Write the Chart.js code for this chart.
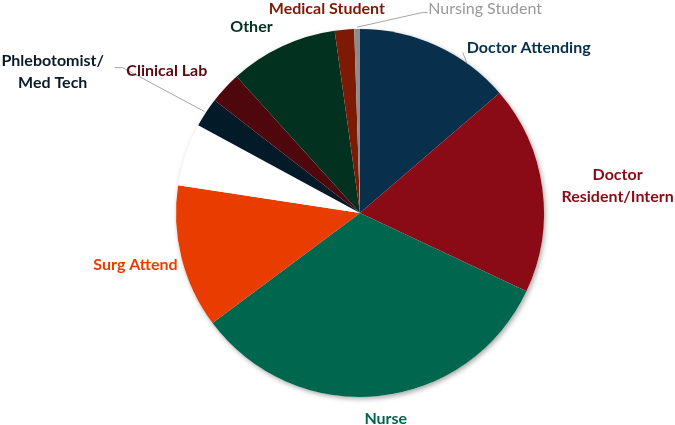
<!DOCTYPE html>
<html>
<head>
<meta charset="utf-8">
<script src="https://cdn.jsdelivr.net/npm/chart.js@4/dist/chart.umd.min.js"></script>
<style>
  html, body { margin: 0; padding: 0; background: #fff; }
  #wrap { width: 675px; height: 425px; position: relative; }
</style>
</head>
<body>
<div id="wrap"><canvas id="pie"></canvas></div>
<script>
/* data (percent of whole, clockwise from 12 o'clock) */
var categories = ['Doctor Attending', 'Doctor Resident/Intern', 'Nurse', 'Surg Attend', '',
  'Phlebotomist/ Med Tech', 'Clinical Lab', 'Other', 'Medical Student', 'Nursing Student'];
var shares = [13.7, 18.3, 32.8, 12.6, 5.5, 2.6, 2.8, 9.5, 1.7, 0.5];
var sliceColors = ['#08304c', '#8a0a16', '#00664e', '#e83c00', '#ffffff',
  '#031a29', '#4e070d', '#02321f', '#7c1a05', '#8c8c8c'];
var textColors = ['#08304c', '#8a0a16', '#00664e', '#e83c00', '#ffffff',
  '#0a1a27', '#5c0a12', '#02321f', '#7c1a05', '#999999'];

(function () {
  'use strict';

  var FONT = "'Lato', 'Open Sans', sans-serif";

  // label anchors, in pie radii from the centre; align + optional leader line
  var labelLayout = [
    { dx: 0.58, dy: -0.90, align: 'left', leader: 'edge' },
    { dx: 1.40, dy: -0.145, align: 'center' },
    { dx: 0.14, dy: 1.12, align: 'center' },
    { dx: -1.22, dy: 0.28, align: 'center' },
    null,
    { dx: -1.67, dy: -0.765, align: 'center', leader: 'elbow', elbowDx: -1.29, elbowDy: -0.79 },
    { dx: -1.05, dy: -0.77, align: 'center' },
    { dx: -0.59, dy: -1.01, align: 'center' },
    { dx: -0.18, dy: -1.11, align: 'center' },
    { dx: 0.68, dy: -1.11, align: 'center', leader: 'elbow', elbowDx: 0.34, elbowDy: -1.09, bold: false }
  ];

  function splitLabel(s) {
    if (s === 'Doctor Resident/Intern') return ['Doctor', 'Resident/Intern'];
    if (s === 'Phlebotomist/ Med Tech') return ['Phlebotomist/', 'Med Tech'];
    return [s];
  }

  var pieShadow = {
    id: 'pieShadow',
    beforeDatasetsDraw: function (chart) {
      var arc = chart.getDatasetMeta(0).data[0];
      if (!arc) return;
      var ctx = chart.ctx;
      ctx.save();
      ctx.shadowColor = 'rgba(0,0,0,0.35)';
      ctx.shadowBlur = 5;
      ctx.shadowOffsetX = 1.5;
      ctx.shadowOffsetY = 2;
      ctx.fillStyle = '#ffffff';
      ctx.beginPath();
      ctx.arc(arc.x, arc.y, arc.outerRadius, 0, Math.PI * 2);
      ctx.fill();
      ctx.restore();
    }
  };

  var sliceLabels = {
    id: 'sliceLabels',
    afterDatasetsDraw: function (chart) {
      var ctx = chart.ctx;
      var meta = chart.getDatasetMeta(0);
      meta.data.forEach(function (arc, i) {
        var lay = labelLayout[i];
        if (!lay) return;
        var r = arc.outerRadius;
        var cx = arc.x, cy = arc.y;
        var lx = cx + lay.dx * r, ly = cy + lay.dy * r;
        var mid = (arc.startAngle + arc.endAngle) / 2;

        ctx.save();
        ctx.strokeStyle = '#a6a6a6';
        ctx.lineWidth = 1;
        if (lay.leader === 'elbow') {
          var ex = cx + Math.cos(mid) * r * 1.01;
          var ey = cy + Math.sin(mid) * r * 1.01;
          var bx = cx + lay.elbowDx * r, by = cy + lay.elbowDy * r;
          var endX = lay.dx < 0 ? bx - 8 : bx + 5;
          ctx.beginPath();
          ctx.moveTo(ex, ey);
          ctx.lineTo(bx, by);
          ctx.lineTo(endX, by);
          ctx.stroke();
        } else if (lay.leader === 'edge') {
          var a = -Math.PI / 2 + 0.62;
          ctx.beginPath();
          ctx.moveTo(cx + Math.cos(a) * r, cy + Math.sin(a) * r);
          ctx.lineTo(lx - 4, ly + 5);
          ctx.stroke();
        }

        var lines = splitLabel(categories[i]);
        ctx.fillStyle = textColors[i];
        ctx.font = (lay.bold === false ? '' : 'bold ') + '16px ' + FONT;
        ctx.textAlign = lay.align;
        ctx.textBaseline = 'middle';
        var step = 22;
        var y0 = ly - (lines.length - 1) * step / 2;
        lines.forEach(function (t, k) {
          ctx.fillText(t, lx, y0 + k * step);
        });
        ctx.restore();
      });
    }
  };

  new Chart(document.getElementById('pie'), {
    type: 'pie',
    data: {
      labels: categories,
      datasets: [{
        data: shares,
        backgroundColor: sliceColors,
        borderWidth: 0,
        hoverOffset: 0
      }]
    },
    options: {
      responsive: true,
      maintainAspectRatio: false,
      animation: false,
      layout: { padding: { top: 29, bottom: 28, left: 176, right: 131 } },
      plugins: {
        legend: { display: false },
        tooltip: { enabled: false }
      }
    },
    plugins: [pieShadow, sliceLabels]
  });
})();
</script>
</body>
</html>
